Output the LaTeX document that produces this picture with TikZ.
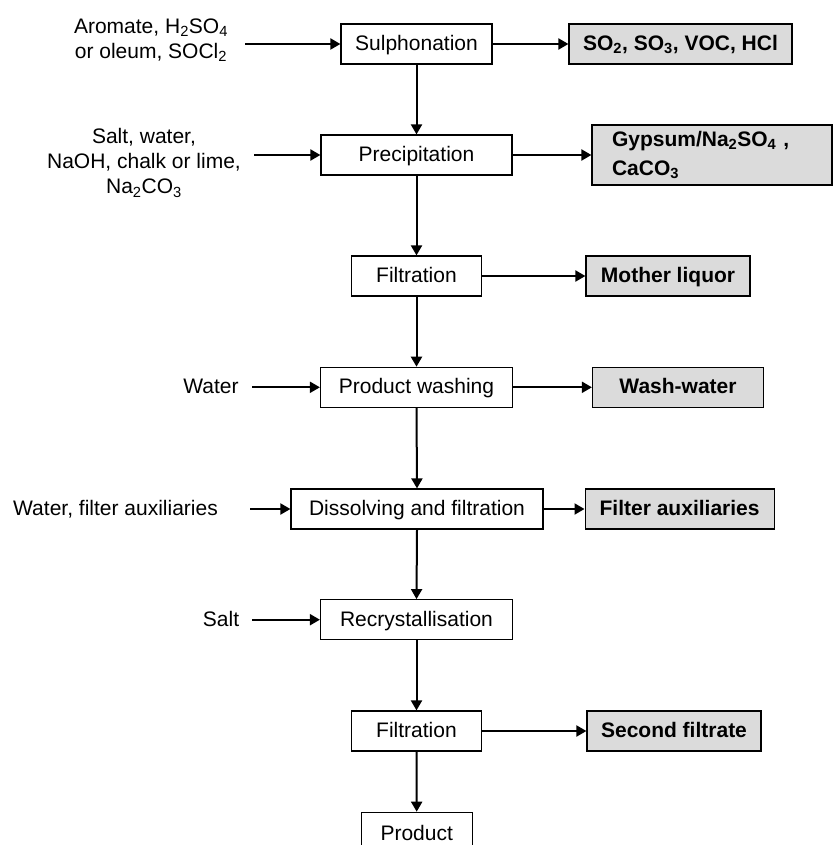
\documentclass[tikz,border=0pt]{standalone}
\usepackage{fontspec}
\setmainfont{Liberation Sans}
\usetikzlibrary{arrows.meta}
\newcommand\chsub[1]{\textsubscript{#1}}
\tikzset{
  proc/.style={draw=black, line width=1.2pt, fill=white, inner sep=0pt, minimum height=40pt,
     font=\fontsize{21}{25}\selectfont, text height=15pt, text depth=2pt},
  waste/.style={proc, fill=gray!28, font=\fontsize{21}{25}\selectfont\bfseries},
  intext/.style={inner sep=0pt, align=center, font=\fontsize{21}{25}\selectfont},
  arr/.style={line width=2pt, -{Triangle[length=10pt,width=11pt]}}
}
\begin{document}
\begin{tikzpicture}[x=1pt,y=-1pt]
\clip (0,0) rectangle (833,845);
\fill[white] (0,0) rectangle (833,845);

% process chain
\node[proc, minimum width=151pt] (sulph) at (416.5,44) {Sulphonation};
\node[proc, minimum width=191pt] (precip) at (416.5,155) {Precipitation};
\node[proc, minimum width=130pt] (filt1) at (416.5,276) {Filtration};
\node[proc, minimum width=192pt] (wash) at (416.5,387.3) {Product washing};
\node[proc, minimum width=252pt] (diss) at (417,509) {Dissolving and filtration};
\node[proc, minimum width=192pt] (recr) at (416.5,619.7) {Recrystallisation};
\node[proc, minimum width=130pt] (filt2) at (416.5,731) {Filtration};
\node[proc, minimum width=111pt, minimum height=60pt, anchor=north] (prod) at (416.7,811.7) {};
\node[intext, anchor=base] (prodtxt) at (416.7,840) {Product};

% waste streams
\node[waste, minimum width=223pt] (so) at (680.5,44) {SO\chsub{2}, SO\chsub{3}, VOC, HCl};
\node[waste, minimum width=240pt, minimum height=60pt, text width=200pt, align=left,
      text height=, text depth=, font=\fontsize{21}{29}\selectfont\bfseries] (gyp) at (712,155)
      {Gypsum/Na\chsub{2}SO\chsub{4} ,\\CaCO\chsub{3}};
\node[waste, minimum width=164pt] (mother) at (668,276) {Mother liquor};
\node[waste, minimum width=171pt] (ww) at (678,387.3) {Wash-water};
\node[waste, minimum width=189pt] (faux) at (679.6,509) {Filter auxiliaries};
\node[waste, minimum width=174pt] (sec) at (674,731) {Second filtrate};

% inputs
\node[intext] (in1) at (151,40) {Aromate, H\chsub{2}SO\chsub{4}\\or oleum, SOCl\chsub{2}};
\node[intext] (in2) at (144,163) {Salt, water,\\NaOH, chalk or lime,\\Na\chsub{2}CO\chsub{3}};
\node[intext, text height=15pt, text depth=2pt] (in3) at (211,387.3) {Water};
\node[intext, text height=15pt, text depth=2pt] (in4) at (115.5,509) {Water, filter auxiliaries};
\node[intext, text height=15pt, text depth=2pt] (in5) at (221,619.7) {Salt};

\coordinate (a1) at (245,44);
\coordinate (a2) at (254,155);
\coordinate (a3) at (252,387.3);
\coordinate (a4) at (250,509);
\coordinate (a5) at (252,619.7);

% input arrows
\draw[arr] (a1) -- (sulph.west);
\draw[arr] (a2) -- (precip.west);
\draw[arr] (a3) -- (wash.west);
\draw[arr] (a4) -- (diss.west);
\draw[arr] (a5) -- (recr.west);

% main flow
\draw[arr] (sulph.south) -- (precip.north);
\draw[arr] (precip.south) -- (filt1.north);
\draw[arr] (filt1.south) -- (wash.north);
\draw[arr] (wash.south) -- (diss.north);
\draw[arr] (diss.south) -- (recr.north);
\draw[arr] (recr.south) -- (filt2.north);
\draw[arr] (filt2.south) -- (prod.north);

% outputs
\draw[arr] (sulph.east) -- (so.west);
\draw[arr] (precip.east) -- (gyp.west);
\draw[arr] (filt1.east) -- (mother.west);
\draw[arr] (wash.east) -- (ww.west);
\draw[arr] (diss.east) -- (faux.west);
\draw[arr] (filt2.east) -- (sec.west);
\end{tikzpicture}
\end{document}
